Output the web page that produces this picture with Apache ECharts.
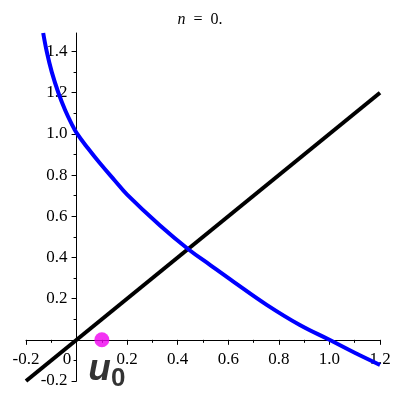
<!DOCTYPE html>
<html>
<head>
<meta charset="utf-8">
<script src="https://cdn.jsdelivr.net/npm/echarts@6/dist/echarts.min.js"></script>
<style>html,body{margin:0;padding:0;background:#fff}#c{width:400px;height:400px}</style>
</head>
<body>
<div id="c"></div>
<script>
// Data
const curveX = [-0.132, -0.118, -0.098, -0.072, -0.045, -0.02, 0, 0.045, 0.0925, 0.15, 0.2, 0.33, 0.442, 0.53, 0.62, 0.752, 0.883, 1.0, 1.1, 1.2];
const curveY = [1.49, 1.40, 1.30, 1.20, 1.115, 1.05, 1.005, 0.93, 0.857, 0.775, 0.705, 0.555, 0.44, 0.362, 0.283, 0.17, 0.072, 0.0, -0.063, -0.122];
const lineX = [-0.2, 1.2];
const lineY = [-0.2, 1.2];
const pointX = [0.1];
const pointY = [0];
const pointLabel = 'u';
const pointSub = '0';
const titleVar = 'n';
const titleRest = '  =  0.';
const yMajor = [-0.2, 0, 0.2, 0.4, 0.6, 0.8, 1.0, 1.2, 1.4];
const yLabels = [-0.2, 0.2, 0.4, 0.6, 0.8, 1.0, 1.2, 1.4];
const yMinor = [-0.1, 0.1, 0.3, 0.5, 0.7, 0.9, 1.1, 1.3];
const xMin = -0.2, xMax = 1.2, yMin = -0.2, yMax = 1.49;

const serif = 'Liberation Serif';
const chart = echarts.init(document.getElementById('c'), null, {renderer: 'canvas'});
const fmt = v => (Math.abs(v) < 1e-9 ? '0' : v.toFixed(1));

chart.setOption({
  animation: false,
  title: {
    text: '{i|' + titleVar + '}' + titleRest,
    left: 'center',
    top: 7,
    textStyle: {
      fontFamily: serif, fontSize: 16, fontWeight: 'normal', color: '#000',
      rich: { i: { fontFamily: serif, fontSize: 16, fontStyle: 'italic', color: '#000' } }
    }
  },
  grid: { left: 26, right: 20, top: 33, bottom: 19, containLabel: false, outerBoundsMode: 'none' },
  xAxis: {
    type: 'value', min: xMin, max: xMax, interval: 0.2,
    axisLine: { onZero: false, lineStyle: { color: '#000', width: 1 } },
    axisTick: { length: 5, lineStyle: { color: '#000' } },
    minorTick: { show: true, splitNumber: 2, length: 3, lineStyle: { color: '#000' } },
    splitLine: { show: false },
    axisLabel: {
      margin: 11, color: '#000', fontFamily: serif, fontSize: 17, hideOverlap: false,
      formatter: v => (Math.abs(v) < 1e-9 ? '{z|0}' : fmt(v)),
      rich: { z: { fontFamily: serif, fontSize: 17, color: '#000', padding: [0, 19, 0, 0] } }
    }
  },
  yAxis: [{
    type: 'value', min: yMin, max: yMax, position: 'left',
    axisLine: { onZero: false, lineStyle: { color: '#000', width: 1 } },
    axisTick: { length: 5, customValues: yMajor, lineStyle: { color: '#000' } },
    splitLine: { show: false },
    axisLabel: {
      margin: 9, color: '#000', fontFamily: serif, fontSize: 17, hideOverlap: false,
      customValues: yLabels, formatter: fmt
    }
  }, {
    type: 'value', min: yMin, max: yMax, position: 'left',
    axisLine: { show: false, onZero: false },
    axisTick: { length: 3, customValues: yMinor, lineStyle: { color: '#000' } },
    splitLine: { show: false },
    axisLabel: { show: false }
  }],
  series: [{
    type: 'line', yAxisIndex: 0,
    data: lineX.map((x, i) => [x, lineY[i]]),
    showSymbol: false, symbol: 'none',
    lineStyle: { color: '#000', width: 4 }, z: 2
  }, {
    type: 'line', yAxisIndex: 0,
    data: curveX.map((x, i) => [x, curveY[i]]),
    showSymbol: false, symbol: 'none', smooth: 0.4,
    lineStyle: { color: '#0000ff', width: 4 }, z: 3
  }, {
    type: 'scatter', yAxisIndex: 0,
    data: pointX.map((x, i) => [x, pointY[i]]),
    symbol: 'circle', symbolSize: 15,
    itemStyle: { color: '#f000f0' }, z: 4,
    label: {
      show: true, position: 'bottom', distance: 0, offset: [5, 8],
      formatter: '{u|' + pointLabel + '}{s|' + pointSub + '}',
      rich: {
        u: { fontFamily: 'Liberation Sans', fontSize: 37, lineHeight: 37, fontWeight: 'bold', fontStyle: 'italic', color: '#000', verticalAlign: 'bottom', padding: [0, 0, 4, 0] },
        s: { fontFamily: 'Liberation Sans', fontSize: 26, lineHeight: 26, fontWeight: 'bold', color: '#000', verticalAlign: 'bottom' }
      }
    }
  }]
});

// Move the axes so they cross at the origin, using the library's own scales
const x0 = chart.convertToPixel({ xAxisIndex: 0 }, 0);
const xLeft = chart.convertToPixel({ xAxisIndex: 0 }, xMin);
const y0 = chart.convertToPixel({ yAxisIndex: 0 }, 0);
const yBottom = chart.convertToPixel({ yAxisIndex: 0 }, yMin);
chart.setOption({
  xAxis: { offset: y0 - yBottom },
  yAxis: [{ offset: xLeft - x0 }, { offset: xLeft - x0 }]
});
</script>
</body>
</html>
